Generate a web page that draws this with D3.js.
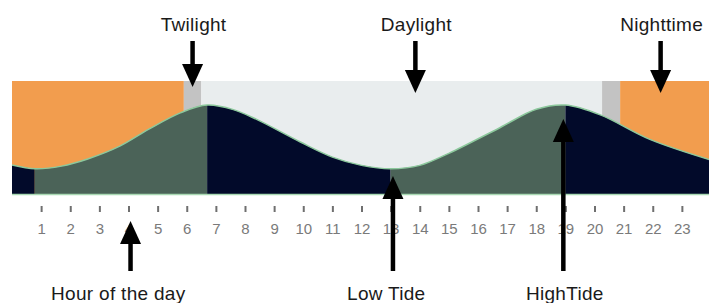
<!DOCTYPE html>
<html>
<head>
<meta charset="utf-8">
<script src="https://cdn.jsdelivr.net/npm/d3@7"></script>
<style>
  body { margin: 0; background: #fff; }
  svg { display: block; }
  text { font-family: "Liberation Sans", Arial, sans-serif; }
</style>
</head>
<body>
<div id="chart"></div>
<script>
// sky bands (hour start / end / kind)
const skyStart = [0, 5.9, 6.5, 20.26, 20.88];
const skyEnd = [5.9, 6.5, 20.26, 20.88, 24];
const skyKind = ["night", "twilight", "day", "twilight", "night"];

// tide level over the day (metres)
const tideHours = [0, 0.8, 1.7, 2.6, 3.7, 4.7, 5.8, 6.7, 7.6, 8.4, 9.9, 11.0, 12.0, 13.0, 14.0, 15.0, 16.75, 18.0, 19.0, 20.2, 21.9, 24];
const tideLevels = [0.77, 0.67, 0.74, 0.93, 1.27, 1.72, 2.16, 2.36, 2.24, 1.98, 1.38, 0.98, 0.76, 0.67, 0.76, 1.08, 1.76, 2.25, 2.36, 2.1, 1.45, 0.9];

// rising / falling phases
const phaseStart = [0, 0.78, 6.7, 13.0, 19.0];
const phaseEnd = [0.78, 6.7, 13.0, 19.0, 24];
const phaseKind = ["falling", "rising", "falling", "rising", "falling"];

const hourTicks = d3.range(1, 24);

// annotations
const topLabels = ["Twilight", "Daylight", "Nighttime"];
const topHours = [6.2, 13.85, 22.27];
const bottomLabels = ["Hour of the day", "Low Tide", "HighTide"];
const bottomArrowHours = [4.07, 13.08, 18.93];
const bottomTextHours = [3.65, 12.85, 18.98];

const colors = {
  night: "#f29d4e", twilight: "#c3c3c3", day: "#e9edee",
  rising: "#4b6358", falling: "#020a2a"
};

const W = 709, H = 303;
const chartTop = 81, chartBottom = 194;

const svg = d3.select("#chart").append("svg")
  .attr("width", W).attr("height", H);

const x = d3.scaleLinear().domain([0, 24]).range([12, 711]);
const y = d3.scaleLinear().domain([0, 3]).range([chartBottom, chartTop]);

const tide = tideHours.map((h, i) => ({ h: h, v: tideLevels[i] }));

const sky = skyStart.map((s, i) => ({ s: s, e: skyEnd[i], k: skyKind[i] }));
svg.selectAll(".sky").data(sky).enter().append("rect")
  .attr("class", "sky")
  .attr("x", d => x(d.s))
  .attr("y", chartTop)
  .attr("width", d => x(d.e) - x(d.s))
  .attr("height", chartBottom - chartTop)
  .attr("fill", d => colors[d.k]);

const area = d3.area()
  .x(d => x(d.h))
  .y0(chartBottom)
  .y1(d => y(d.v))
  .curve(d3.curveCatmullRom.alpha(0.5));

svg.append("clipPath").attr("id", "tideClip")
  .append("path").attr("d", area(tide));

const phases = phaseStart.map((s, i) => ({ s: s, e: phaseEnd[i], k: phaseKind[i] }));
svg.append("g").attr("clip-path", "url(#tideClip)")
  .selectAll("rect").data(phases).enter().append("rect")
  .attr("x", d => x(d.s))
  .attr("y", chartTop)
  .attr("width", d => x(d.e) - x(d.s))
  .attr("height", chartBottom - chartTop)
  .attr("fill", d => colors[d.k]);

const line = d3.line()
  .x(d => x(d.h))
  .y(d => y(d.v))
  .curve(d3.curveCatmullRom.alpha(0.5));

svg.append("path")
  .attr("d", line(tide))
  .attr("fill", "none")
  .attr("stroke", "#8cc89c")
  .attr("stroke-width", 1.5);

svg.append("line")
  .attr("x1", x(0)).attr("x2", W)
  .attr("y1", chartBottom + 0.5).attr("y2", chartBottom + 0.5)
  .attr("stroke", "#a9d9b3").attr("stroke-width", 1.5);

// hour axis
const axis = svg.append("g")
  .attr("transform", "translate(0,206)")
  .call(d3.axisBottom(x).tickValues(hourTicks).tickSizeInner(6).tickSizeOuter(0).tickPadding(11));
axis.select(".domain").remove();
axis.selectAll(".tick line").attr("stroke", "#6f6f6f").attr("stroke-width", 2);
axis.selectAll(".tick text")
  .attr("fill", "#7a7a7a")
  .style("font-size", "15px")
  .style("font-family", "'Liberation Sans', Arial, sans-serif");

// arrows
function arrow(xp, y1, y2) {
  // y1 = tail, y2 = tip
  const dir = y2 > y1 ? 1 : -1;
  const headLen = 23, headW = 10.5;
  const g = svg.append("g");
  g.append("line")
    .attr("x1", xp).attr("x2", xp)
    .attr("y1", y1).attr("y2", y2 - dir * headLen + dir * 2)
    .attr("stroke", "#000").attr("stroke-width", 4.5);
  g.append("path")
    .attr("d", `M${xp},${y2} L${xp - headW},${y2 - dir * headLen} L${xp + headW},${y2 - dir * headLen} Z`)
    .attr("fill", "#000");
}

const topTipY = [87, 93, 93];
topLabels.forEach((t, i) => {
  svg.append("text")
    .attr("x", x(topHours[i]) + 1)
    .attr("y", 31)
    .attr("text-anchor", "middle")
    .attr("fill", "#1a1a1a")
    .style("font-size", "19px")
    .style("letter-spacing", "0.3px")
    .text(t);
  arrow(x(topHours[i]), 41, topTipY[i]);
});

const bottomTipY = [221, 176, 119];
bottomLabels.forEach((t, i) => {
  svg.append("text")
    .attr("x", x(bottomTextHours[i]))
    .attr("y", 300)
    .attr("text-anchor", "middle")
    .attr("fill", "#1a1a1a")
    .style("font-size", "19px")
    .style("letter-spacing", "0.3px")
    .text(t);
  arrow(x(bottomArrowHours[i]), 271, bottomTipY[i]);
});
</script>
</body>
</html>
